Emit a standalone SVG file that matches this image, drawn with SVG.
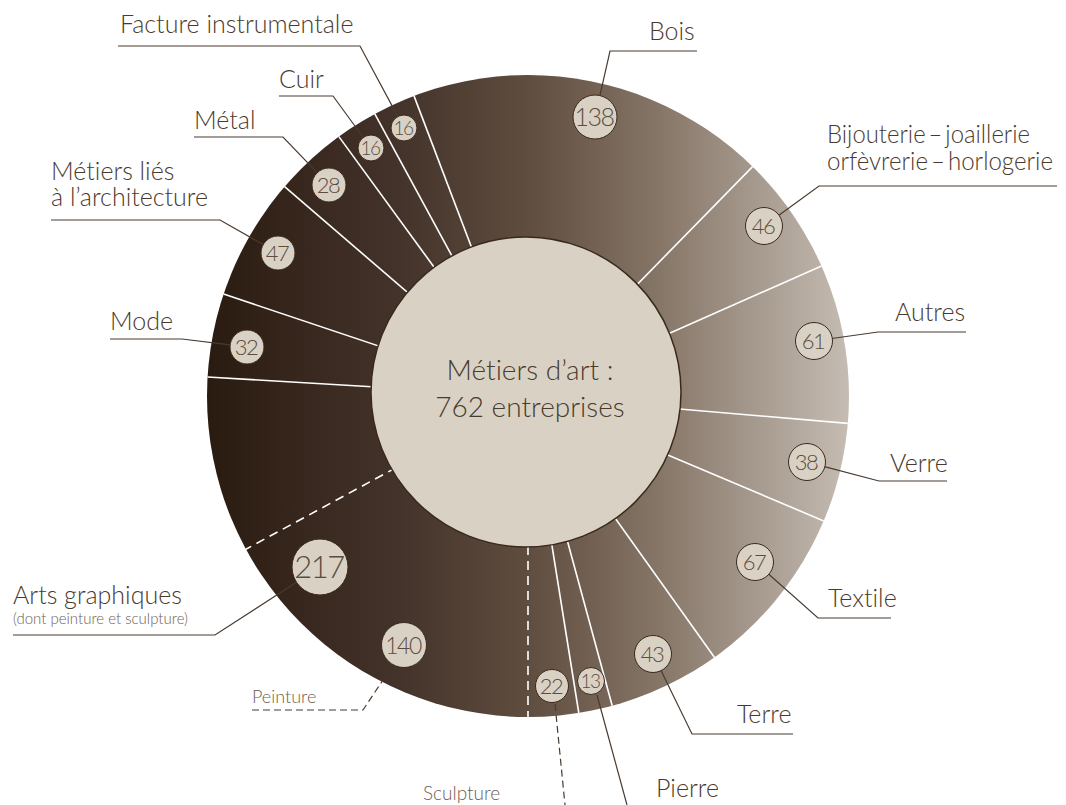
<svg xmlns="http://www.w3.org/2000/svg" width="1066" height="805" viewBox="0 0 1066 805">
<defs>
<linearGradient id="ring" gradientUnits="userSpaceOnUse" x1="207" y1="0" x2="849" y2="0">
<stop offset="0" stop-color="#2a1b11"/>
<stop offset="0.3" stop-color="#44332a"/>
<stop offset="0.5" stop-color="#5f4d3f"/>
<stop offset="0.7" stop-color="#857566"/>
<stop offset="1" stop-color="#c5bcb3"/>
</linearGradient>
<style>
text{font-variant-ligatures:none;font-feature-settings:"liga" 0,"clig" 0}
.lbl{font-family:Lato,"Liberation Sans",sans-serif;font-weight:300;font-size:25px;fill:#4a3a2e}
.sm{font-family:Lato,"Liberation Sans",sans-serif;font-weight:300;fill:#6e5e52}
.num{font-family:Lato,"Liberation Sans",sans-serif;font-weight:300;fill:#5c4c40;text-anchor:middle;letter-spacing:-1.5px}
.bub{fill:#d9d2c4;stroke:#3a2a1e;stroke-width:1}
.sep{stroke:#ffffff;stroke-width:1.6;fill:none}
.dsep{stroke:#ffffff;stroke-width:1.6;fill:none;stroke-dasharray:9 6}
.lead{stroke:#4a3a2e;stroke-width:1.2;fill:none}
.dlead{stroke:#4a3a2e;stroke-width:1.2;fill:none;stroke-dasharray:7 4}
</style>
</defs>
<rect width="1066" height="805" fill="#ffffff"/>
<g id="ring-chart">
<circle cx="528" cy="396" r="321" fill="url(#ring)"/>
<line class="sep" x1="528" y1="396" x2="414.0" y2="95.9"/>
<line class="sep" x1="528" y1="396" x2="752.6" y2="166.6"/>
<line class="sep" x1="528" y1="396" x2="821.5" y2="266.0"/>
<line class="sep" x1="528" y1="396" x2="847.8" y2="423.4"/>
<line class="sep" x1="528" y1="396" x2="823.7" y2="520.9"/>
<line class="sep" x1="528" y1="396" x2="714.4" y2="657.3"/>
<line class="sep" x1="528" y1="396" x2="612.2" y2="705.8"/>
<line class="sep" x1="528" y1="396" x2="578.8" y2="713.0"/>
<line class="dsep" x1="528" y1="396" x2="528" y2="717"/>
<line class="dsep" x1="528" y1="396" x2="245.9" y2="549.2"/>
<line class="sep" x1="528" y1="396" x2="207.6" y2="377.0"/>
<line class="sep" x1="528" y1="396" x2="223.6" y2="294.1"/>
<line class="sep" x1="528" y1="396" x2="284.6" y2="186.7"/>
<line class="sep" x1="528" y1="396" x2="338.9" y2="136.6"/>
<line class="sep" x1="528" y1="396" x2="374.8" y2="113.9"/>
</g>
<g id="center">
<circle cx="526" cy="392" r="155" fill="#d9d2c4" stroke="#3a2a1e" stroke-width="1.5"/>
<text class="lbl" x="530" y="380" text-anchor="middle" style="font-size:28px">Métiers d’art :</text>
<text class="lbl" x="530" y="417" text-anchor="middle" style="font-size:28px">762 entreprises</text>
</g>
<g id="connectors">
<polyline class="lead" points="118,46 360,46 397.6,116.1"/>
<polyline class="lead" points="279,96 333,96 363.3,137.5"/>
<polyline class="lead" points="194,137 283,137 317.2,172.7"/>
<polyline class="lead" points="51,220 220,220 263.2,244.6"/>
<polyline class="lead" points="110,339 182,339 230.1,344.9"/>
<polyline class="lead" points="13,635 215,635 296.5,582.2"/>
<polyline class="dlead" points="252,710 363,710 383,680"/>
<polyline class="dlead" points="555,704 565,805"/>
<polyline class="lead" points="597,695 627,805"/>
<polyline class="lead" points="793,734 692,734 660.9,670.2"/>
<polyline class="lead" points="891,618 818,618 768.5,574"/>
<polyline class="lead" points="947,481 879,481 824.4,466.6"/>
<polyline class="lead" points="966,332 878,332 831.8,338.5"/>
<polyline class="lead" points="1057,186 819,186 778.6,215.4"/>
<polyline class="lead" points="697,51 610,51 599.9,95.6"/>
</g>
<g id="bois">
<text class="lbl" x="649" y="40">Bois</text>
<circle class="bub" cx="595" cy="117" r="22"/>
<text class="num" x="594" y="126" style="font-size:25px">138</text>
</g>
<g id="bijouterie">
<text class="lbl" x="827" y="143" textLength="203" lengthAdjust="spacingAndGlyphs">Bijouterie&#8201;–&#8201;joaillerie</text>
<text class="lbl" x="827" y="170" textLength="226" lengthAdjust="spacingAndGlyphs">orfèvrerie&#8201;–&#8201;horlogerie</text>
<circle class="bub" cx="764" cy="226" r="18.5"/>
<text class="num" x="763" y="234" style="font-size:22px">46</text>
</g>
<g id="autres">
<text class="lbl" x="895" y="321">Autres</text>
<circle class="bub" cx="814" cy="341" r="18.5"/>
<text class="num" x="813" y="349" style="font-size:22px">61</text>
</g>
<g id="verre">
<text class="lbl" x="890" y="472">Verre</text>
<circle class="bub" cx="807" cy="462" r="18.5"/>
<text class="num" x="806" y="470" style="font-size:22px">38</text>
</g>
<g id="textile">
<text class="lbl" x="828" y="607">Textile</text>
<circle class="bub" cx="755" cy="562" r="18.5"/>
<text class="num" x="754" y="570" style="font-size:22px">67</text>
</g>
<g id="terre">
<text class="lbl" x="737" y="723">Terre</text>
<circle class="bub" cx="653" cy="654" r="18.5"/>
<text class="num" x="652" y="662" style="font-size:22px">43</text>
</g>
<g id="pierre">
<text class="lbl" x="656" y="797">Pierre</text>
<circle class="bub" cx="591" cy="681" r="13.5"/>
<text class="num" x="590" y="688" style="font-size:19px">13</text>
</g>
<g id="sculpture">
<text class="sm" x="423" y="800" style="font-size:19px">Sculpture</text>
<circle class="bub" cx="552" cy="686" r="16.5"/>
<text class="num" x="551" y="694" style="font-size:22px">22</text>
</g>
<g id="peinture">
<text class="sm" x="252" y="703" style="font-size:18px">Peinture</text>
<circle class="bub" cx="404" cy="645" r="22.5"/>
<text class="num" x="403" y="654" style="font-size:23px">140</text>
</g>
<g id="arts-graphiques">
<text class="lbl" x="13" y="604">Arts graphiques</text>
<text class="sm" x="13" y="624" style="font-size:15px">(dont peinture et sculpture)</text>
<circle class="bub" cx="320" cy="567" r="28"/>
<text class="num" x="319" y="578" style="font-size:31px">217</text>
</g>
<g id="mode">
<text class="lbl" x="110" y="330">Mode</text>
<circle class="bub" cx="247" cy="347" r="17"/>
<text class="num" x="246" y="355" style="font-size:22px">32</text>
</g>
<g id="architecture">
<text class="lbl" x="51" y="180">Métiers liés</text>
<text class="lbl" x="51" y="206">à l’architecture</text>
<circle class="bub" cx="278" cy="253" r="17"/>
<text class="num" x="277" y="261" style="font-size:22px">47</text>
</g>
<g id="metal">
<text class="lbl" x="194" y="129">Métal</text>
<circle class="bub" cx="329" cy="185" r="17"/>
<text class="num" x="328" y="193" style="font-size:22px">28</text>
</g>
<g id="cuir">
<text class="lbl" x="279" y="88">Cuir</text>
<circle class="bub" cx="371" cy="148" r="13"/>
<text class="num" x="370" y="155" style="font-size:19px">16</text>
</g>
<g id="facture">
<text class="lbl" x="120" y="33">Facture instrumentale</text>
<circle class="bub" cx="404" cy="128" r="13"/>
<text class="num" x="403" y="135" style="font-size:19px">16</text>
</g>
</svg>
